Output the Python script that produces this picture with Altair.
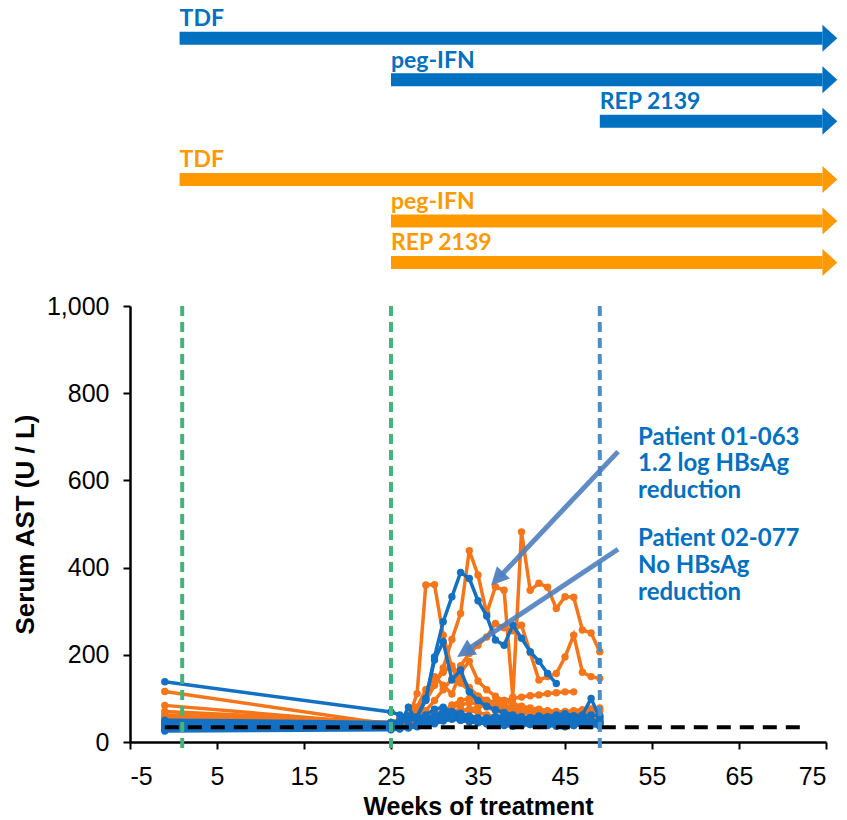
import altair as alt
import pandas as pd

# ---------------- data ----------------
WEEKS = [-1, 25, 26, 27, 28, 29, 30, 31, 32, 33, 34, 35, 36, 37, 38, 39, 40,
         41, 42, 43, 44, 45, 46, 47, 48, 49]

ORANGE_SERIES = {
    "O1": [62, 45, 52, 60, 75, 95, 130, 170, 235, 295, 439, 383, 295, 356, 348, 103, 482, 348, 364, 355, 306, 333, 332, 257, 250, 207],
    "O2": [84, 40, 48, 55, 111, 360, 361, 245, 170, 135, 118, 105, 96, 90, 84, 80, 76, 72, 70, 68, 66, 64, 62, 60, 62, 58],
    "O3": [59, 42, 48, 55, 60, 72, 95, 120, 145, 175, 203, 222, 241, 272, 262, 255, 268, 205, 142, 150, 157, 195, 245, 160, 150, 146],
    "O4": [116, 40, 42, 45, 50, 55, 58, 62, 66, 70, 75, 80, 86, 92, 95, 100, 103, 106, 108, 111, 113, 115, 115, None, None, None],
    "O5": [70, 45, 50, 60, 78, 100, 135, 160, 175, 150, 125, 105, 90, 82, 75, 70, 66, 64, 62, 60, 60, 62, 64, 66, 68, 72],
    "O6": [45, 38, 40, 42, 48, 55, 65, 72, 80, 85, 90, 88, 80, 72, 65, 60, 55, 52, 50, 48, 50, 52, 55, 58, 55, 52],
    "O7": [38, 35, 36, 40, 42, 45, 50, 60, 70, 75, 72, 68, 62, 58, 55, 50, 48, 46, 45, 44, 45, 46, 48, 47, 46, 45],
    "O8": [52, 36, 38, 42, 45, 52, 60, 68, 85, 95, 100, 96, 92, 86, 80, 76, 72, 70, 68, 66, 68, 70, 72, 74, 76, 78],
    "O9": [48, 42, 50, 62, 80, 120, 150, 130, 110, 160, 185, 140, 120, 105, 95, 88, 82, 78, 75, 72, 70, 68, 66, 64, 62, 60],
}

BLUE_SERIES = {
    "B0": [138, 69, 62, 58, 55, 52, 50, 55, 60, 58, 55, 52, 50, 48, 50, 52, 50, 48, 47, 50, 52, 50, 48, 50, 48, 46],
    "B3": [50, 45, 48, 50, 52, 55, 60, 58, 55, 53, 50, 52, 55, 58, 60, 56, 54, 55, 52, 50, 55, 58, 60, 62, 100, 55],
    "B4": [30, 32, 35, 38, 40, 45, 60, 70, 65, 58, 52, 48, 45, 42, 40, 42, 44, 40, 38, 40, 42, 40, 38, 40, 42, 40],
    "B5": [25, 28, 30, 32, 35, 38, 42, 48, 52, 50, 48, 45, 42, 40, 38, 36, 38, 40, 42, 38, 36, 35, 38, 40, 38, 36],
    "B6": [40, 35, 38, 80, 45, 50, 55, 62, 70, 66, 60, 56, 52, 48, 46, 44, 42, 44, 46, 48, 45, 44, 46, 48, 45, 44],
    "B7": [28, 30, 33, 36, 40, 44, 48, 52, 55, 50, 46, 44, 42, 45, 48, 50, 47, 44, 42, 44, 46, 48, 45, 43, 46, 42],
    "B8": [33, 38, 42, 60, 55, 62, 75, 80, 68, 60, 56, 52, 50, 54, 58, 55, 52, 56, 60, 58, 62, 65, 60, 58, 62, 60],
    "02-077": [35, 40, 44, 50, 58, 100, 188, 230, 142, 165, 115, 95, 82, 74, 68, 62, 58, 55, 54, 52, 50, 52, 55, 53, 50, 48],
    "01-063": [42, 45, 48, 50, 58, 96, 195, 276, 333, 389, 375, 324, 289, 234, 222, 268, 238, 207, 185, 157, 134, None, None, None, None, None],
}

ULN_AST = 34
ULN_FROM, ULN_TO = -1, 73
PHASE_LINES_WEEK = [1, 25, 49]
PHASE_LINES_KIND = ["green", "green", "blue"]

THERAPY_LABEL = ["TDF", "peg-IFN", "REP 2139", "TDF", "peg-IFN", "REP 2139"]
THERAPY_ARM = ["blue", "blue", "blue", "orange", "orange", "orange"]
THERAPY_START = [0.7, 25, 49, 0.7, 25, 25]
THERAPY_LANE = [0, 1, 2, 3.4, 4.4, 5.4]
THERAPY_END = 74.6
THERAPY_TIP = 76.3

ANNOT_TEXT = ["Patient 01-063\n1.2 log HBsAg\nreduction", "Patient 02-077\nNo HBsAg\nreduction"]
ANNOT_WEEK = [53.4, 53.4]
ANNOT_AST = [682, 449]
POINTER_FROM_WEEK = [51.1, 51.1]
POINTER_FROM_AST = [666, 442]
POINTER_BASE_WEEK = [37.5, 33.7]
POINTER_BASE_AST = [379, 211]
POINTER_TIP_WEEK = [36.5, 32.6]
POINTER_TIP_AST = [359, 195]
POINTER_ANGLE = [133.5, 146.3]

X_TICKS = [-5, 5, 15, 25, 35, 45, 55, 65, 75]
Y_TICKS = [0, 200, 400, 600, 800, 1000]

# ---------------- styles ----------------
DATA_ORANGE = "#F5761A"
DATA_BLUE = "#1370C2"
TOP_BLUE = "#0070C0"
TOP_ORANGE = "#FF9900"
GREEN_DASH = "#41B57A"
BLUE_DASH = "#4A8FCC"
POINTER = "#4F7FBF"
LABEL_FONT = "Lato"
AXIS_FONT = "Liberation Sans"


def long_df(series):
    rows = []
    for name, vals in series.items():
        for w, v in zip(WEEKS, vals):
            if v is not None:
                rows.append({"patient": name, "week": w, "ast": v})
    return pd.DataFrame(rows)


df_orange = long_df(ORANGE_SERIES)
df_blue = long_df(BLUE_SERIES)

W, H = 696, 436
XT = "Weeks of treatment"
YT = "Serum AST (U / L)"
xscale = alt.Scale(domain=[-5, 75], nice=False, zero=False)
yscale = alt.Scale(domain=[0, 1000], nice=False)
xaxis = alt.Axis(values=X_TICKS, labelExpr="'' + datum.value", title=XT, labelFontSize=25, titleFontSize=25,
                 labelPadding=15, titlePadding=5, tickSize=7)
yaxis = alt.Axis(values=Y_TICKS, format=",.0f", title=YT, labelFontSize=25, titleFontSize=26,
                 labelPadding=14, titlePadding=8, tickSize=7)


def X(field):
    return alt.X(field, type="quantitative", scale=xscale, axis=xaxis, title=XT)


def Y(field):
    return alt.Y(field, type="quantitative", scale=yscale, axis=yaxis, title=YT)


orange_lines = alt.Chart(df_orange).mark_line(
    color=DATA_ORANGE, strokeWidth=3.5,
    point=alt.OverlayMarkDef(filled=True, size=55, color=DATA_ORANGE, opacity=1)
).encode(x=X("week"), y=Y("ast"), detail="patient:N")

blue_lines = alt.Chart(df_blue).mark_line(
    color=DATA_BLUE, strokeWidth=3.5,
    point=alt.OverlayMarkDef(filled=True, size=55, color=DATA_BLUE, opacity=1)
).encode(x=X("week"), y=Y("ast"), detail="patient:N")

uln = alt.Chart(pd.DataFrame({"week": [ULN_FROM], "week2": [ULN_TO], "ast": [ULN_AST]})).mark_rule(
    color="black", strokeWidth=4, strokeDash=[14, 9]
).encode(x=X("week"), x2="week2:Q", y=Y("ast"))

phase_df = pd.DataFrame({"week": PHASE_LINES_WEEK, "kind": PHASE_LINES_KIND})
phase = alt.Chart(phase_df).mark_rule(strokeWidth=4, strokeDash=[10, 6]).encode(
    x=X("week"),
    y=alt.datum(1000),
    y2=alt.datum(-20),
    color=alt.Color("kind:N", scale=alt.Scale(domain=["green", "blue"], range=[GREEN_DASH, BLUE_DASH]), legend=None),
)

ptr_df = pd.DataFrame({
    "week": POINTER_FROM_WEEK, "ast": POINTER_FROM_AST,
    "week2": POINTER_BASE_WEEK, "ast2": POINTER_BASE_AST,
})
ptr_lines = alt.Chart(ptr_df).mark_rule(color=POINTER, strokeWidth=5, opacity=0.9).encode(
    x=X("week"), y=Y("ast"), x2="week2:Q", y2="ast2:Q")

head_df = pd.DataFrame({"week": POINTER_TIP_WEEK, "ast": POINTER_TIP_AST, "angle": POINTER_ANGLE})
ptr_heads = alt.Chart(head_df).mark_point(
    shape="M -1.8 -0.9 L 0 0 L -1.8 0.9 Z", size=400, filled=True, color=POINTER, opacity=0.95
).encode(x=X("week"), y=Y("ast"), angle=alt.Angle("angle:Q", scale=None))

annot_df = pd.DataFrame({"week": ANNOT_WEEK, "ast": ANNOT_AST, "text": ANNOT_TEXT})
annot = alt.Chart(annot_df).mark_text(
    align="left", baseline="alphabetic", lineBreak="\n", lineHeight=26.7,
    font=LABEL_FONT, fontWeight="bold", fontSize=24, color=TOP_BLUE
).encode(x=X("week"), y=Y("ast"), text="text:N")

bottom = alt.layer(orange_lines, blue_lines, uln, phase, ptr_lines, ptr_heads, annot).properties(
    width=W, height=H)

# ---------------- therapy arrows ----------------
ther_df = pd.DataFrame({
    "label": THERAPY_LABEL, "arm": THERAPY_ARM, "start": THERAPY_START,
    "lane": THERAPY_LANE, "end": THERAPY_END, "tip": THERAPY_TIP,
})
lane_scale = alt.Scale(domain=[-0.923, 5.824], reverse=True, nice=False, zero=False)
arm_color = alt.Color("arm:N", scale=alt.Scale(domain=["blue", "orange"], range=[TOP_BLUE, TOP_ORANGE]), legend=None)
tx = alt.Scale(domain=[-5, 75], nice=False, zero=False)

bars = alt.Chart(ther_df).mark_rule(strokeWidth=13).encode(
    x=alt.X("start:Q", scale=tx, axis=None), x2="end:Q",
    y=alt.Y("lane:Q", scale=lane_scale, axis=None), color=arm_color)
heads = alt.Chart(ther_df).mark_point(
    shape="M -1.1 -1 L 0 0 L -1.1 1 Z", size=729, filled=True, opacity=1
).encode(x=alt.X("tip:Q", scale=tx, axis=None), y=alt.Y("lane:Q", scale=lane_scale, axis=None), color=arm_color)
labels = alt.Chart(ther_df).mark_text(
    align="left", baseline="alphabetic", dy=-12, font=LABEL_FONT, fontWeight="bold", fontSize=23
).encode(x=alt.X("start:Q", scale=tx, axis=None), y=alt.Y("lane:Q", scale=lane_scale, axis=None),
         text="label:N", color=arm_color)

top = alt.layer(bars, heads, labels).properties(width=W, height=280)

chart = alt.vconcat(top, bottom, spacing=14).resolve_scale(color="independent").properties(
    padding={"left": 12, "top": 0, "right": 0, "bottom": 0}
).configure_view(stroke=None).configure_axis(
    labelFont=AXIS_FONT, titleFont=AXIS_FONT, labelColor="black", titleColor="black",
    domainColor="black", domainWidth=2.5, tickColor="black", tickWidth=2, grid=False,
    titleFontWeight="bold", labelFontWeight="normal"
)

chart.save("out.html", embed_options={"renderer": "svg", "actions": False})
